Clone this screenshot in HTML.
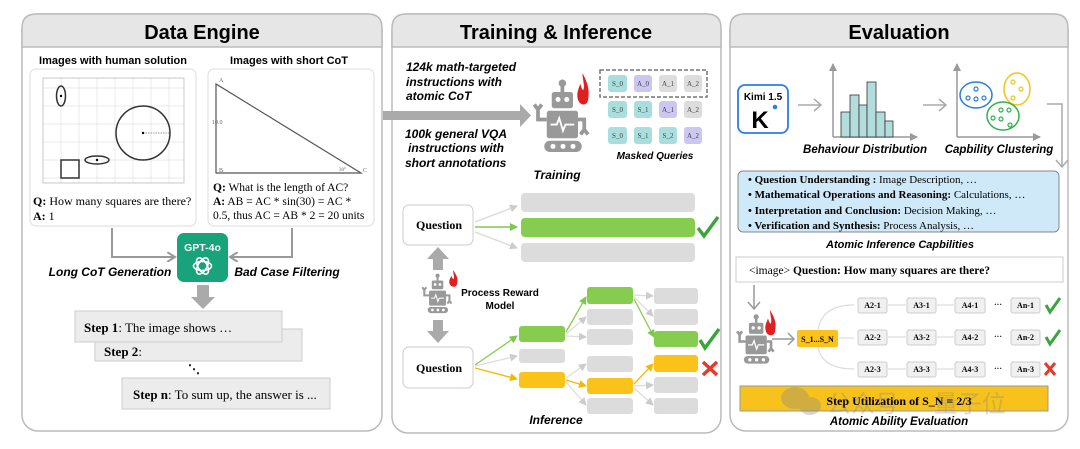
<!DOCTYPE html>
<html><head><meta charset="utf-8"><style>
body{margin:0;background:#fff;}
svg{display:block;}
.h{font-family:"Liberation Sans",sans-serif;font-weight:bold;}
.bi{font-family:"Liberation Sans",sans-serif;font-weight:bold;font-style:italic;}
.s{font-family:"Liberation Serif",serif;}
</style></head><body>
<svg width="1080" height="449" viewBox="0 0 1080 449" xmlns="http://www.w3.org/2000/svg">
<defs>
<marker id="ga" markerWidth="8" markerHeight="8" refX="7" refY="4" orient="auto" markerUnits="userSpaceOnUse"><path d="M0,0 L8,4 L0,8 Z" fill="#999"/></marker>
<marker id="gl" markerWidth="8" markerHeight="8" refX="7" refY="4" orient="auto" markerUnits="userSpaceOnUse"><path d="M0,0 L8,4 L0,8 Z" fill="#ccc"/></marker>
<marker id="gn" markerWidth="8" markerHeight="8" refX="7" refY="4" orient="auto" markerUnits="userSpaceOnUse"><path d="M0,0 L8,4 L0,8 Z" fill="#7cc84a"/></marker>
<marker id="yl" markerWidth="8" markerHeight="8" refX="7" refY="4" orient="auto" markerUnits="userSpaceOnUse"><path d="M0,0 L8,4 L0,8 Z" fill="#f5b800"/></marker>
<marker id="op" markerWidth="10" markerHeight="10" refX="8" refY="5" orient="auto" markerUnits="userSpaceOnUse"><path d="M0,0 L8,5 L0,10" fill="none" stroke="#999" stroke-width="2"/></marker>
<g id="robot">
<rect x="14" y="0" width="3" height="8" fill="#999"/><circle cx="15.5" cy="1" r="3" fill="#999"/>
<rect x="7" y="8" width="17" height="13" rx="2" fill="#999"/>
<circle cx="12" cy="14" r="2" fill="#fff"/><circle cx="19" cy="14" r="2" fill="#fff"/>
<rect x="3" y="23" width="25" height="22" rx="2" fill="#999"/>
<path d="M6,34 L11,34 L13,29 L16,39 L18,34 L25,34" stroke="#fff" stroke-width="1.5" fill="none"/>
<path d="M3,30 L-4,30 L-4,20 M-7,18 L-4,22 L-1,18" stroke="#999" stroke-width="3" fill="none"/>
<path d="M28,30 L33,30 L33,40 M30,42 L33,38 L36,42" stroke="#999" stroke-width="3" fill="none"/>
<rect x="1" y="47" width="30" height="9" rx="4.5" fill="#999"/>
<circle cx="8" cy="51.5" r="2" fill="#fff"/><circle cx="16" cy="51.5" r="2" fill="#fff"/><circle cx="24" cy="51.5" r="2" fill="#fff"/>
</g>
<path id="fire" d="M5,0 C9,6 12,10 10,18 C9,22 3,22 1,18 C-1,13 2,10 3,7 C4,10 5,12 6,11 C7,8 5,4 5,0 Z" fill="#e02020"/>
</defs>

<!-- Panel frames -->
<rect x="22" y="14" width="360" height="417" rx="16" fill="#fff" stroke="#bbb" stroke-width="1.5"/>
<path d="M22,47 L22,28 Q22,14 36,14 L368,14 Q382,14 382,28 L382,47 Z" fill="#e6e6e6" stroke="#bbb" stroke-width="1.5"/>
<text x="202" y="39" text-anchor="middle" class="h" font-size="20">Data Engine</text>

<rect x="392" y="14" width="329" height="419" rx="16" fill="#fff" stroke="#bbb" stroke-width="1.5"/>
<path d="M392,47 L392,28 Q392,14 406,14 L707,14 Q721,14 721,28 L721,47 Z" fill="#e6e6e6" stroke="#bbb" stroke-width="1.5"/>
<text x="556" y="39" text-anchor="middle" class="h" font-size="20">Training &amp; Inference</text>

<rect x="730" y="14" width="338" height="417" rx="16" fill="#fff" stroke="#bbb" stroke-width="1.5"/>
<path d="M730,47 L730,28 Q730,14 744,14 L1054,14 Q1068,14 1068,28 L1068,47 Z" fill="#e6e6e6" stroke="#bbb" stroke-width="1.5"/>
<text x="899" y="39" text-anchor="middle" class="h" font-size="20">Evaluation</text>

<!-- ===== Data Engine ===== -->
<text x="113" y="64" text-anchor="middle" class="h" font-size="11">Images with human solution</text>
<text x="289" y="64" text-anchor="middle" class="h" font-size="11">Images with short CoT</text>
<rect x="30" y="69" width="166" height="157" rx="6" fill="#fff" stroke="#ddd"/>
<rect x="208" y="69" width="166" height="157" rx="6" fill="#fff" stroke="#ddd"/>
<g stroke="#e3e3e3" stroke-width="0.7">
<line x1="61" y1="78" x2="61" y2="183"/><line x1="79" y1="78" x2="79" y2="183"/><line x1="97" y1="78" x2="97" y2="183"/><line x1="115" y1="78" x2="115" y2="183"/><line x1="133" y1="78" x2="133" y2="183"/><line x1="151" y1="78" x2="151" y2="183"/><line x1="169" y1="78" x2="169" y2="183"/>
<line x1="43" y1="88" x2="184" y2="88"/><line x1="43" y1="106" x2="184" y2="106"/><line x1="43" y1="124" x2="184" y2="124"/><line x1="43" y1="142" x2="184" y2="142"/><line x1="43" y1="160" x2="184" y2="160"/><line x1="43" y1="178" x2="184" y2="178"/>
</g>
<rect x="43" y="78" width="141" height="105" fill="none" stroke="#bbb" stroke-width="0.8"/>
<g fill="none" stroke="#333" stroke-width="1.5">
<ellipse cx="61" cy="96" rx="4.5" ry="10"/>
<circle cx="143" cy="133" r="27"/>
<ellipse cx="97" cy="160" rx="12" ry="4"/>
<rect x="61" y="160" width="18" height="18"/>
</g>
<line x1="143" y1="133" x2="170" y2="133" stroke="#777" stroke-width="0.8" stroke-dasharray="1.5,1"/>
<circle cx="61" cy="96" r="1.2"/><circle cx="143" cy="133" r="1.2"/><circle cx="97" cy="160" r="1.2"/>
<text x="33" y="205" class="s" font-size="12"><tspan font-weight="bold">Q:</tspan> How many squares are there?</text>
<text x="33" y="220" class="s" font-size="12"><tspan font-weight="bold">A:</tspan> 1</text>

<path d="M216,84 L216,173 L361,173 Z" fill="none" stroke="#555" stroke-width="1.2"/>
<text x="219" y="82" class="s" font-size="6" fill="#666">A</text>
<text x="212" y="124" class="s" font-size="6" fill="#666">10.0</text>
<text x="219" y="172" class="s" font-size="6" fill="#666">B</text>
<text x="363" y="172" class="s" font-size="6" fill="#666">C</text>
<text x="339" y="171" class="s" font-size="5" fill="#666">30°</text>
<text x="213" y="191" class="s" font-size="11.5"><tspan font-weight="bold">Q:</tspan> What is the length of AC?</text>
<text x="213" y="205" class="s" font-size="11.5"><tspan font-weight="bold">A:</tspan> AB = AC * sin(30) = AC *</text>
<text x="213" y="219" class="s" font-size="11.5">0.5, thus AC = AB * 2 = 20 units</text>

<path d="M112,228 L112,257 L175,257" fill="none" stroke="#999" stroke-width="2" marker-end="url(#op)"/>
<path d="M292,228 L292,257 L230,257" fill="none" stroke="#999" stroke-width="2" marker-end="url(#op)"/>
<rect x="177" y="233" width="51" height="49" rx="7" fill="#19a37b"/>
<text x="202.5" y="251" text-anchor="middle" class="h" font-size="10.5" fill="#fff">GPT-4o</text>
<g fill="none" stroke="#fff" stroke-width="1.6" transform="translate(202.5,266)">
<ellipse rx="9" ry="4.5"/><ellipse rx="9" ry="4.5" transform="rotate(60)"/><ellipse rx="9" ry="4.5" transform="rotate(120)"/>
</g>
<text x="110" y="276" text-anchor="middle" class="bi" font-size="12">Long CoT Generation</text>
<text x="287" y="276" text-anchor="middle" class="bi" font-size="12">Bad Case Filtering</text>
<path d="M197,285 L209,285 L209,297 L215,297 L203,309 L191,297 L197,297 Z" fill="#aaa"/>

<rect x="95" y="329" width="207" height="32" fill="#ececec" stroke="#ccc"/>
<rect x="75" y="311" width="207" height="31" fill="#ececec" stroke="#ccc"/>
<text x="84" y="332" class="s" font-size="13"><tspan font-weight="bold">Step 1</tspan>: The image shows …</text>
<text x="104" y="356" class="s" font-size="13" font-weight="bold">Step 2<tspan font-weight="normal">:</tspan></text>
<text x="188" y="373" class="s" font-size="12" font-weight="bold">⋱</text>
<rect x="122" y="378" width="208" height="31" fill="#ececec" stroke="#ccc"/>
<text x="133" y="399" class="s" font-size="13"><tspan font-weight="bold">Step n</tspan>: To sum up, the answer is ...</text>

<!-- ===== Training & Inference ===== -->
<g class="bi" font-size="12">
<text x="406" y="71">124k math-targeted</text>
<text x="406" y="86">instructions with</text>
<text x="406" y="100">atomic CoT</text>
<text x="405" y="138">100k general VQA</text>
<text x="408" y="152">instructions with</text>
<text x="405" y="167">short annotations</text>
</g>
<path d="M383,111 L520,111 L520,104 L531,115.5 L520,127 L520,120 L383,120 Z" fill="#aaa"/>
<use href="#robot" transform="translate(543,82) scale(1.25)"/>
<use href="#fire" transform="translate(577,73) scale(1.1,1.5)"/>
<rect x="600" y="70" width="107" height="27" fill="none" stroke="#777" stroke-width="1.5" stroke-dasharray="4,2"/>
<g class="s" font-size="7" text-anchor="middle" fill="#444">
<rect x="608" y="75" width="19" height="17" rx="3" fill="#a8dede"/><text x="617.5" y="86">S_0</text>
<rect x="634" y="75" width="18" height="17" rx="3" fill="#cbc7f0"/><text x="643" y="86">A_0</text>
<rect x="659" y="75" width="18" height="17" rx="3" fill="#ddd"/><text x="668" y="86">A_1</text>
<rect x="684" y="75" width="18" height="17" rx="3" fill="#ddd"/><text x="693" y="86">A_2</text>
<rect x="608" y="101" width="19" height="17" rx="3" fill="#a8dede"/><text x="617.5" y="112">S_0</text>
<rect x="634" y="101" width="18" height="17" rx="3" fill="#a8dede"/><text x="643" y="112">S_1</text>
<rect x="659" y="101" width="18" height="17" rx="3" fill="#cbc7f0"/><text x="668" y="112">A_1</text>
<rect x="684" y="101" width="18" height="17" rx="3" fill="#ddd"/><text x="693" y="112">A_2</text>
<rect x="608" y="127" width="19" height="17" rx="3" fill="#a8dede"/><text x="617.5" y="138">S_0</text>
<rect x="634" y="127" width="18" height="17" rx="3" fill="#a8dede"/><text x="643" y="138">S_1</text>
<rect x="659" y="127" width="18" height="17" rx="3" fill="#a8dede"/><text x="668" y="138">S_2</text>
<rect x="684" y="127" width="18" height="17" rx="3" fill="#cbc7f0"/><text x="693" y="138">A_2</text>
</g>
<text x="655" y="159" text-anchor="middle" class="bi" font-size="10">Masked Queries</text>
<text x="557" y="179" text-anchor="middle" class="bi" font-size="12">Training</text>

<rect x="403" y="205" width="70" height="40" rx="6" fill="#fff" stroke="#ccc"/>
<text x="439" y="229" text-anchor="middle" class="s" font-weight="bold" font-size="12">Question</text>
<line x1="475" y1="222" x2="517" y2="206" stroke="#ddd" stroke-width="1.5" marker-end="url(#gl)"/>
<line x1="475" y1="227" x2="517" y2="227" stroke="#7cc84a" stroke-width="1.5" marker-end="url(#gn)"/>
<line x1="475" y1="232" x2="517" y2="248" stroke="#ddd" stroke-width="1.5" marker-end="url(#gl)"/>
<rect x="521" y="193" width="174" height="19" rx="4" fill="#dcdcdc"/>
<rect x="521" y="218" width="174" height="19" rx="4" fill="#86cc4e"/>
<rect x="521" y="243" width="174" height="19" rx="4" fill="#dcdcdc"/>
<path d="M698,228 L704,236 L718,217" fill="none" stroke="#3aa63a" stroke-width="3.5"/>

<path d="M433,270 L433,259 L427,259 L438,247 L449,259 L443,259 L443,270 Z" fill="#aaa"/>
<use href="#robot" transform="translate(427,275) scale(0.68)"/>
<use href="#fire" transform="translate(449,270) scale(0.8)"/>
<text x="500" y="296" text-anchor="middle" class="h" font-size="10">Process Reward</text>
<text x="500" y="309" text-anchor="middle" class="h" font-size="10">Model</text>
<path d="M433,320 L443,320 L443,331 L449,331 L438,343 L427,331 L433,331 Z" fill="#aaa"/>

<rect x="403" y="347" width="70" height="41" rx="6" fill="#fff" stroke="#ccc"/>
<text x="439" y="372" text-anchor="middle" class="s" font-weight="bold" font-size="12">Question</text>
<g stroke-width="1.3" fill="none">
<line x1="475" y1="365" x2="517" y2="336" stroke="#86cc4e" marker-end="url(#gn)"/>
<line x1="475" y1="366" x2="517" y2="356" stroke="#ddd" marker-end="url(#gl)"/>
<line x1="475" y1="368" x2="517" y2="379" stroke="#f5b800" marker-end="url(#yl)"/>
<line x1="566" y1="332" x2="586" y2="297" stroke="#86cc4e" marker-end="url(#gn)"/>
<line x1="566" y1="334" x2="586" y2="317" stroke="#ddd" marker-end="url(#gl)"/>
<line x1="566" y1="336" x2="586" y2="337" stroke="#ddd" marker-end="url(#gl)"/>
<line x1="566" y1="378" x2="586" y2="364" stroke="#ddd" marker-end="url(#gl)"/>
<line x1="566" y1="380" x2="586" y2="386" stroke="#f5b800" marker-end="url(#yl)"/>
<line x1="566" y1="382" x2="586" y2="405" stroke="#ddd" marker-end="url(#gl)"/>
<line x1="634" y1="295" x2="653" y2="296" stroke="#ddd" marker-end="url(#gl)"/>
<line x1="634" y1="297" x2="653" y2="316" stroke="#ddd" marker-end="url(#gl)"/>
<line x1="634" y1="299" x2="654" y2="337" stroke="#86cc4e" marker-end="url(#gn)"/>
<line x1="634" y1="384" x2="653" y2="364" stroke="#f5b800" marker-end="url(#yl)"/>
<line x1="634" y1="386" x2="653" y2="385" stroke="#ddd" marker-end="url(#gl)"/>
<line x1="634" y1="388" x2="653" y2="405" stroke="#ddd" marker-end="url(#gl)"/>
</g>
<g>
<rect x="519" y="326" width="46" height="16" rx="3" fill="#86cc4e"/>
<rect x="519" y="349" width="46" height="14" rx="3" fill="#dcdcdc"/>
<rect x="519" y="372" width="46" height="16" rx="3" fill="#fbc21a"/>
<rect x="587" y="287" width="46" height="17" rx="3" fill="#86cc4e"/>
<rect x="587" y="309" width="46" height="16" rx="3" fill="#dcdcdc"/>
<rect x="587" y="329" width="46" height="16" rx="3" fill="#dcdcdc"/>
<rect x="587" y="356" width="46" height="16" rx="3" fill="#dcdcdc"/>
<rect x="587" y="378" width="46" height="16" rx="3" fill="#fbc21a"/>
<rect x="587" y="398" width="46" height="16" rx="3" fill="#dcdcdc"/>
<rect x="654" y="288" width="44" height="16" rx="3" fill="#dcdcdc"/>
<rect x="654" y="309" width="44" height="16" rx="3" fill="#dcdcdc"/>
<rect x="654" y="331" width="44" height="16" rx="3" fill="#86cc4e"/>
<rect x="654" y="355" width="44" height="17" rx="3" fill="#fbc21a"/>
<rect x="654" y="377" width="44" height="16" rx="3" fill="#dcdcdc"/>
<rect x="654" y="398" width="44" height="16" rx="3" fill="#dcdcdc"/>
</g>
<path d="M700,340 L705,348 L719,329" fill="none" stroke="#3aa63a" stroke-width="3.5"/>
<path d="M703,362 L717,375 M717,362 L703,375" stroke="#e53a2a" stroke-width="3.5"/>
<text x="556" y="424" text-anchor="middle" class="bi" font-size="12">Inference</text>

<!-- ===== Evaluation ===== -->
<rect x="738" y="85" width="50" height="48" rx="7" fill="#fff" stroke="#2b7de9" stroke-width="1.8"/>
<text x="763" y="100" text-anchor="middle" class="h" font-size="10">Kimi 1.5</text>
<text x="760" y="128" text-anchor="middle" class="h" font-size="24">K</text>
<circle cx="775" cy="107" r="2.3" fill="#2b7de9"/>
<path d="M798,105 L821,105 M814,99 L821,105 L814,111" fill="none" stroke="#aaa" stroke-width="1.5"/>
<path d="M833,137 L833,64" stroke="#999" stroke-width="1.5" marker-end="url(#ga)"/>
<path d="M833,137 L917,137" stroke="#999" stroke-width="1.5" marker-end="url(#ga)"/>
<g fill="#b3dcdc" stroke="#333" stroke-width="0.8">
<rect x="841" y="112" width="9" height="25"/><rect x="850" y="95" width="9" height="42"/><rect x="859" y="105" width="8" height="32"/>
<rect x="867" y="82" width="9" height="55"/><rect x="876" y="112" width="9" height="25"/><rect x="885" y="121" width="8" height="16"/>
</g>
<text x="865" y="153" text-anchor="middle" class="bi" font-size="11.5">Behaviour Distribution</text>
<path d="M923,105 L946,105 M939,99 L946,105 L939,111" fill="none" stroke="#aaa" stroke-width="1.5"/>
<path d="M957,137 L957,64" stroke="#999" stroke-width="1.5" marker-end="url(#ga)"/>
<path d="M957,137 L1040,137" stroke="#999" stroke-width="1.5" marker-end="url(#ga)"/>
<ellipse cx="976" cy="95" rx="16" ry="13" fill="none" stroke="#2a7de0" stroke-width="1.5"/>
<ellipse cx="1017" cy="89" rx="13" ry="16" fill="none" stroke="#f5c21a" stroke-width="1.5"/>
<ellipse cx="1003" cy="116" rx="16" ry="14" fill="none" stroke="#2db34a" stroke-width="1.5"/>
<g fill="none" stroke-width="1.2">
<g stroke="#2a7de0"><circle cx="976" cy="89" r="2"/><circle cx="968" cy="98" r="2"/><circle cx="976" cy="99" r="2"/><circle cx="984" cy="98" r="2"/></g>
<g stroke="#f5c21a"><circle cx="1013" cy="82" r="2"/><circle cx="1021" cy="89" r="2"/><circle cx="1013" cy="98" r="2"/></g>
<g stroke="#2db34a"><circle cx="1001" cy="110" r="2"/><circle cx="1009" cy="110" r="2"/><circle cx="993" cy="118" r="2"/><circle cx="1001" cy="119" r="2"/><circle cx="1010" cy="125" r="2"/></g>
</g>
<text x="999" y="153" text-anchor="middle" class="bi" font-size="11.5">Capbility Clustering</text>
<path d="M1047,104 L1062,104 L1062,167 M1056,160 L1062,167 L1068,160" fill="none" stroke="#aaa" stroke-width="1.5"/>

<rect x="738" y="171" width="321" height="61" rx="5" fill="#cfe9f9" stroke="#888"/>
<g class="s" font-size="11">
<text x="748" y="183"><tspan font-weight="bold">• Question Understanding :</tspan> Image Description, …</text>
<text x="748" y="198"><tspan font-weight="bold">• Mathematical Operations and Reasoning:</tspan> Calculations, …</text>
<text x="748" y="214"><tspan font-weight="bold">• Interpretation and Conclusion:</tspan> Decision Making, …</text>
<text x="748" y="229"><tspan font-weight="bold">• Verification and Synthesis:</tspan> Process Analysis, …</text>
</g>
<text x="900" y="248" text-anchor="middle" class="bi" font-size="11">Atomic Inference Capbilities</text>
<rect x="736" y="257" width="327" height="25" fill="#fff" stroke="#ccc"/>
<text x="749" y="274" class="s" font-size="11.5" font-weight="bold"><tspan font-weight="normal">&lt;image&gt;</tspan>  Question: How many squares are there?</text>
<path d="M754,285 L754,309 M748,302 L754,309 L760,302" fill="none" stroke="#999" stroke-width="1.5"/>
<use href="#robot" transform="translate(743,316) scale(0.85)"/>
<use href="#fire" transform="translate(765,310) scale(1,1.2)"/>
<path d="M772,339 L794,339 M788,333 L794,339 L788,345" fill="none" stroke="#999" stroke-width="1.5"/>
<rect x="797" y="330" width="41" height="17" rx="2" fill="#fbc21a"/>
<text x="817.5" y="342" text-anchor="middle" class="s" font-size="8" font-weight="bold">S_1...S_N</text>
<g fill="none" stroke="#ddd" stroke-width="1.2">
<path d="M818,330 Q822,305 854,305"/><path d="M818,347 Q822,369 854,369"/>
<line x1="839" y1="338" x2="854" y2="338"/>
</g>
<g class="s" font-size="8" font-weight="bold" text-anchor="middle">
<g fill="#f0f0f0" stroke="#ccc">
<rect x="858" y="298" width="29" height="15" rx="2"/><rect x="907" y="298" width="29" height="15" rx="2"/><rect x="955" y="298" width="30" height="15" rx="2"/><rect x="1011" y="298" width="29" height="15" rx="2"/>
<rect x="858" y="330" width="29" height="15" rx="2"/><rect x="907" y="330" width="29" height="15" rx="2"/><rect x="955" y="330" width="30" height="15" rx="2"/><rect x="1011" y="330" width="29" height="15" rx="2"/>
<rect x="858" y="362" width="29" height="15" rx="2"/><rect x="907" y="362" width="29" height="15" rx="2"/><rect x="955" y="362" width="30" height="15" rx="2"/><rect x="1011" y="362" width="29" height="15" rx="2"/>
</g>
<g fill="none" stroke="#ddd" stroke-width="1.2">
<line x1="888" y1="305" x2="906" y2="305"/><line x1="937" y1="305" x2="954" y2="305"/>
<line x1="888" y1="337" x2="906" y2="337"/><line x1="937" y1="337" x2="954" y2="337"/>
<line x1="888" y1="369" x2="906" y2="369"/><line x1="937" y1="369" x2="954" y2="369"/>
</g>
<text x="872.5" y="308">A2-1</text><text x="921.5" y="308">A3-1</text><text x="970" y="308">A4-1</text><text x="998" y="307">···</text><text x="1025.5" y="308">An-1</text>
<text x="872.5" y="340">A2-2</text><text x="921.5" y="340">A3-2</text><text x="970" y="340">A4-2</text><text x="998" y="339">···</text><text x="1025.5" y="340">An-2</text>
<text x="872.5" y="372">A2-3</text><text x="921.5" y="372">A3-3</text><text x="970" y="372">A4-3</text><text x="998" y="371">···</text><text x="1025.5" y="372">An-3</text>
</g>
<path d="M1046,305 L1050,312 L1060,298" fill="none" stroke="#3aa63a" stroke-width="3"/>
<path d="M1046,337 L1050,344 L1060,330" fill="none" stroke="#3aa63a" stroke-width="3"/>
<path d="M1045,363 L1055,375 M1055,363 L1045,375" stroke="#e53a2a" stroke-width="3"/>
<rect x="740" y="386" width="308" height="25" fill="#f7c21b" stroke="#999"/>
<g opacity="0.35" fill="#888">
<ellipse cx="795" cy="398" rx="14" ry="11"/><ellipse cx="810" cy="406" rx="11" ry="9"/>
<text x="827" y="412" font-family="Noto Sans CJK SC,sans-serif" font-size="24">公众号 · 量子位</text>
</g>
<text x="899" y="405" text-anchor="middle" class="s" font-size="12" font-weight="bold">Step Utilization of S_N = 2/3</text>
<text x="899" y="425" text-anchor="middle" class="bi" font-size="11.5">Atomic Ability Evaluation</text>
</svg>
</body></html>
